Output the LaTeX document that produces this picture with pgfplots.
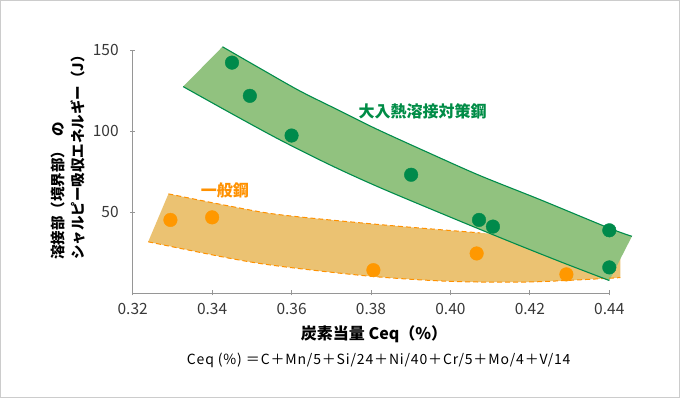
\documentclass[border=0pt]{standalone}
\usepackage{pgfplots}
\usepackage{pgfplotstable}
\pgfplotsset{compat=1.18}
\usepgfplotslibrary{fillbetween}
\usepackage{fontspec}
\setmainfont{Noto Sans CJK JP}
\newfontfamily\formulafont[LetterSpace=6]{Noto Sans CJK JP}
\definecolor{gline}{RGB}{0,140,75}
\definecolor{gfill}{RGB}{145,194,127}
\definecolor{gdot}{RGB}{0,138,75}
\definecolor{gtext}{RGB}{0,140,70}
\definecolor{ofill}{RGB}{235,194,114}
\definecolor{oline}{RGB}{255,145,0}
\definecolor{odot}{RGB}{255,152,0}
\definecolor{axgray}{RGB}{150,150,150}
\definecolor{bordergray}{RGB}{204,204,204}

% band edges
\pgfplotstableread{
x y
0.3426 152.0
0.3521 138.6
0.3621 124.7
0.3722 112.4
0.3814 101.2
0.3950 86.0
0.4074 72.5
0.4226 57.6
0.4400 40.0
0.4457 35.0
}\greenupper
\pgfplotstableread{
x y
0.3327 127.4
0.3450 110.6
0.3571 94.5
0.3700 78.7
0.3823 65.0
0.4000 46.8
0.4150 31.7
0.4280 19.0
0.4400 7.7
}\greenlower
\pgfplotstableread{
x y
0.3290 61.2
0.3445 53.6
0.3571 48.3
0.3823 42.2
0.4075 37.1
0.4250 34.5
0.4428 32.8
}\orangeupper
% visible part of the upper edge (the rest lies under the green band)
\pgfplotstableread{
x y
0.3290 61.2
0.3445 53.6
0.3571 48.3
0.3823 42.2
0.4075 37.1
}\orangeuppervis
\pgfplotstableread{
x y
0.3239 31.6
0.3445 21.4
0.3571 16.5
0.3800 10.3
0.4000 7.2
0.4200 6.8
0.4428 9.5
}\orangelower
\pgfplotstableread{
x y
0.3450 142.2
0.3495 121.7
0.3600 97.2
0.3901 73.0
0.4072 45.1
0.4107 41.0
0.4400 38.7
0.4400 15.8
}\greendots
\pgfplotstableread{
x y
0.3295 45.1
0.3400 46.7
0.3806 14.1
0.4066 24.4
0.4292 11.5
}\orangedots

\begin{document}
\begin{tikzpicture}
\begin{axis}[
  at={(132.7bp,105bp)}, anchor=south west,
  scale only axis, width=476.6bp, height=243bp,
  xmin=0.32, xmax=0.44, ymin=0, ymax=150,
  clip=false,
  axis x line=bottom, axis y line=left,
  axis line style={axgray, line width=0.8bp, -},
  xtick={0.32,0.34,0.36,0.38,0.40,0.42,0.44},
  ytick={50,100,150},
  tick style={axgray, line width=0.8bp},
  tick align=center, major tick length=5bp,
  scaled x ticks=false,
  x tick label style={/pgf/number format/.cd, fixed, fixed zerofill, precision=2, /tikz/.cd, yshift=-4bp},
  y tick label style={xshift=-8bp},
  ticklabel style={font=\fontsize{15.5bp}{17bp}\selectfont, text=black!78},
  /pgf/number format/assume math mode=true,
]
% general steel band
\addplot[draw=none, name path=ou, smooth] table {\orangeupper};
\addplot[draw=none, name path=ol, smooth] table {\orangelower};
\addplot[fill=ofill, draw=none] fill between[of=ou and ol];
\addplot[oline, line width=1bp, dash pattern=on 5bp off 3bp, smooth] table {\orangeuppervis};
\addplot[oline, line width=1bp, dash pattern=on 5bp off 3bp, smooth] table {\orangelower};
% high heat input steel band
\addplot[draw=none, name path=gu, smooth] table {\greenupper};
\addplot[draw=none, name path=gl, smooth] table {\greenlower};
\addplot[fill=gfill, draw=none] fill between[of=gu and gl];
\addplot[gline, line width=1.1bp, smooth] table {\greenupper};
\addplot[gline, line width=1.1bp, smooth] table {\greenlower};
% points
\addplot[only marks, mark=*, mark size=6.8bp, color=odot] table {\orangedots};
\addplot[only marks, mark=*, mark size=6.8bp, color=gdot] table {\greendots};
% labels
\node[text=gtext, font=\bfseries\fontsize{16bp}{18bp}\selectfont, inner sep=0pt] at (axis cs:0.3930,112.4) {大入熱溶接対策鋼};
\node[text=oline, font=\bfseries\fontsize{16bp}{18bp}\selectfont, inner sep=0pt] at (axis cs:0.3432,63.3) {一般鋼};
\end{axis}
\node[rotate=90, anchor=west, align=left, inner sep=0pt, font=\bfseries\fontsize{14.5bp}{19.5bp}\selectfont] at (67.8bp,138bp) {溶接部（境界部）\hspace{0.5em}の\\シャルピー吸収エネルギー（J）};
\node[font=\bfseries\fontsize{16bp}{18bp}\selectfont, inner sep=0pt] at (374bp,64bp) {炭素当量 Ceq（\%）};
\node[font=\formulafont\fontsize{14bp}{16bp}\selectfont, inner sep=0pt] at (378.7bp,38bp) {Ceq (\%) ＝C＋Mn/5＋Si/24＋Ni/40＋Cr/5＋Mo/4＋V/14};
\draw[bordergray, line width=1.2bp] (0.6bp,0.6bp) rectangle (679.4bp,397.4bp);
\pgfresetboundingbox
\path[use as bounding box] (0,0) rectangle (680bp,398bp);
\end{tikzpicture}
\end{document}
